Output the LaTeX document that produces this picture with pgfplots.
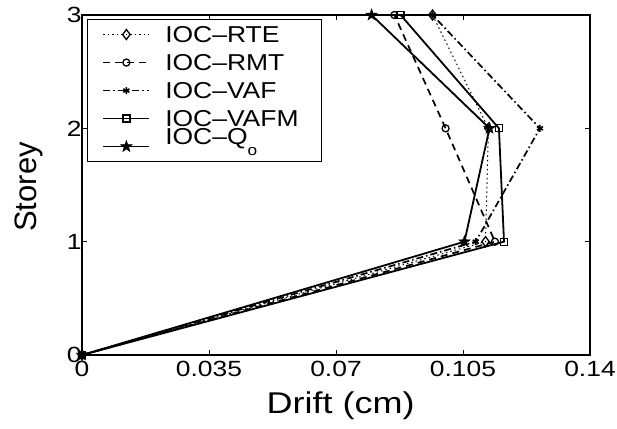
\documentclass[border=0pt]{standalone}
\usepackage{fontspec}
\setmainfont{Liberation Sans}[FakeStretch=1.2]
\newfontfamily\legfont{Liberation Sans}[FakeStretch=1.15]
\newfontfamily\plainsans{Liberation Sans}
\usepackage{pgfplots}
\pgfplotsset{compat=1.18}
\pgfdeclareplotmark{fstar}{%
  \pgfpathmoveto{\pgfpointpolar{90}{\pgfplotmarksize}}%
  \pgfpathlineto{\pgfpointpolar{126}{0.4\pgfplotmarksize}}%
  \pgfpathlineto{\pgfpointpolar{162}{\pgfplotmarksize}}%
  \pgfpathlineto{\pgfpointpolar{198}{0.4\pgfplotmarksize}}%
  \pgfpathlineto{\pgfpointpolar{234}{\pgfplotmarksize}}%
  \pgfpathlineto{\pgfpointpolar{270}{0.4\pgfplotmarksize}}%
  \pgfpathlineto{\pgfpointpolar{306}{\pgfplotmarksize}}%
  \pgfpathlineto{\pgfpointpolar{342}{0.4\pgfplotmarksize}}%
  \pgfpathlineto{\pgfpointpolar{18}{\pgfplotmarksize}}%
  \pgfpathlineto{\pgfpointpolar{54}{0.4\pgfplotmarksize}}%
  \pgfpathclose\pgfusepathqfillstroke}
\begin{document}
\begin{tikzpicture}
\useasboundingbox (0,0) rectangle (617pt,428pt);
\begin{axis}[
  at={(82pt,73pt)}, anchor=south west,
  scale only axis, width=508pt, height=340pt,
  xmin=0, xmax=0.14, ymin=0, ymax=3,
  xtick={0,0.035,0.07,0.105,0.14},
  xticklabels={0,0.035,0.07,0.105,0.14},
  ytick={0,1,2,3},
  tick align=inside, major tick length=5pt,
  every tick/.style={black, line width=0.8pt},
  axis line style={line width=1.2pt},
  /pgf/number format/assume math mode=true,
  tick label style={font=\fontsize{22}{22}\selectfont},
  xticklabel style={yshift=-3pt},
  yticklabel style={xshift=3pt},
  xlabel={Drift (cm)},
  ylabel={Storey},
  xlabel style={at={(axis description cs:0.509,-0.1735)}, anchor=base, font=\fontsize{30}{30}\selectfont},
  ylabel style={at={(axis description cs:-0.0896,0.494)}, anchor=base, font=\plainsans\fontsize{31}{31}\selectfont},
  clip=false,
  legend style={at={(axis description cs:0.0098,0.988)}, anchor=north west,
    draw=black, line width=1pt, fill=white,
    inner xsep=15pt, inner ysep=1pt, column sep=15pt, row sep=0pt,
    nodes={inner sep=0pt, text height=22pt, text depth=6pt, text width=141pt, align=left,
      font=\legfont\fontsize{23}{23}\selectfont}},
  legend cell align=left,
  legend image code/.code={\draw[mark repeat=2,mark phase=2,#1] plot coordinates {(0pt,0pt) (23pt,0pt) (46pt,0pt)};},
]
\addplot[black, line width=1pt, dash pattern=on 1.5pt off 3pt, mark=diamond, mark size=5pt,
  mark options={solid, line width=1.3pt}]
  coordinates {(0,0) (0.1112,1) (0.1120,2) (0.0966,3)};
\addlegendentry{IOC–RTE}
\addplot[black, line width=1.7pt, dash pattern=on 7pt off 5pt, mark=o, mark size=3.5pt,
  mark options={solid, line width=1.3pt}]
  coordinates {(0,0) (0.1138,1) (0.1002,2) (0.0861,3)};
\addlegendentry{IOC–RMT}
\addplot[black, line width=1.7pt, dash pattern=on 7pt off 3pt on 1.5pt off 3pt, mark=asterisk, mark size=3.5pt,
  mark options={solid, line width=1.6pt}]
  coordinates {(0,0) (0.1085,1) (0.1262,2) (0.0966,3)};
\addlegendentry{IOC–VAF}
\addplot[black, line width=1.8pt, mark=square, mark size=3.5pt,
  mark options={solid, line width=1.3pt}]
  coordinates {(0,0) (0.1163,1) (0.1149,2) (0.0878,3)};
\addlegendentry{IOC–VAFM}
\addplot[black, line width=1.8pt, mark=fstar, mark size=6pt,
  mark options={solid, fill=black, line width=0.5pt}]
  coordinates {(0,0) (0.1054,1) (0.1123,2) (0.0798,3)};
\addlegendentry{\raisebox{10pt}[0pt][0pt]{IOC–Q\raisebox{-11pt}{\fontsize{15}{15}\selectfont o}}}
\end{axis}
\end{tikzpicture}
\end{document}
